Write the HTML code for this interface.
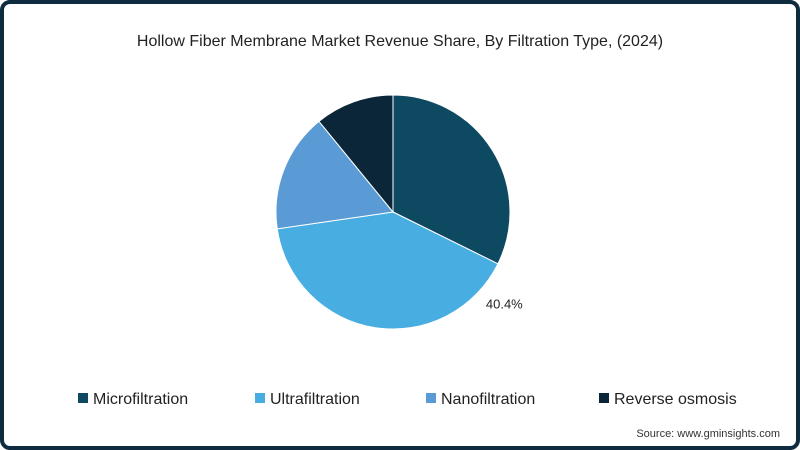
<!DOCTYPE html>
<html><head><meta charset="utf-8"><style>
body{margin:0;width:800px;height:450px;overflow:hidden;background:#fff;font-family:"Liberation Sans",sans-serif}
#frame{position:absolute;left:0;top:0;width:792px;height:442px;border:4px solid #0f2b40;border-radius:10px;background:#fff}
</style></head><body>
<div id="frame"></div>
<svg id="chart" width="800" height="450" style="position:absolute;left:0;top:0">
<text x="400" y="46" text-anchor="middle" font-size="16" fill="#222">Hollow Fiber Membrane Market Revenue Share, By Filtration Type, (2024)</text>
<g id="slices"></g>
<g id="legend"></g>
<text x="780" y="437" text-anchor="end" font-size="11" fill="#333">Source: www.gminsights.com</text>
</svg>
<script>
const categories=["Microfiltration","Ultrafiltration","Nanofiltration","Reverse osmosis"];
const values=[32.3,40.4,16.4,10.9];
const colors=["#0d4a62","#48ade1","#5a9bd6","#0b2638"];
const printed=["","40.4%","",""];
const cx=393,cy=212,r=117;
const NS="http://www.w3.org/2000/svg";
const g=document.getElementById('slices');
const total=values.reduce((a,b)=>a+b,0);
let a0=0;
function pt(a,rr){return [cx+rr*Math.sin(a),cy-rr*Math.cos(a)];}
values.forEach((v,i)=>{
  const a1=a0+v/total*2*Math.PI;
  const [x0,y0]=pt(a0,r),[x1,y1]=pt(a1,r);
  const p=document.createElementNS(NS,'path');
  p.setAttribute('d',`M${cx},${cy}L${x0},${y0}A${r},${r} 0 ${a1-a0>Math.PI?1:0} 1 ${x1},${y1}Z`);
  p.setAttribute('fill',colors[i]);p.setAttribute('stroke','#fff');p.setAttribute('stroke-width','1');
  
  
  g.appendChild(p);
  if(printed[i]){
    const am=a0+(a1-a0)*0.09;
    const [lx,ly]=pt(am,r+27);
    const t=document.createElementNS(NS,'text');
    t.setAttribute('x',lx);t.setAttribute('y',ly+5);t.setAttribute('text-anchor','middle');
    t.setAttribute('font-size','13');t.setAttribute('fill','#222');
    t.textContent=printed[i];
    
    
    g.appendChild(t);
  }
  a0=a1;
});
const lg=document.getElementById('legend');
const lx=[78,255,426,599];
categories.forEach((c,i)=>{
  const gg=document.createElementNS(NS,'g');
  
  
  const rc=document.createElementNS(NS,'rect');
  rc.setAttribute('x',lx[i]);rc.setAttribute('y',393);rc.setAttribute('width',10);rc.setAttribute('height',10);rc.setAttribute('fill',colors[i]);
  const t=document.createElementNS(NS,'text');
  t.setAttribute('x',lx[i]+15);t.setAttribute('y',404);t.setAttribute('font-size','16');t.setAttribute('fill','#222');
  t.textContent=c;
  gg.appendChild(rc);gg.appendChild(t);lg.appendChild(gg);
});
</script>
</body></html>
